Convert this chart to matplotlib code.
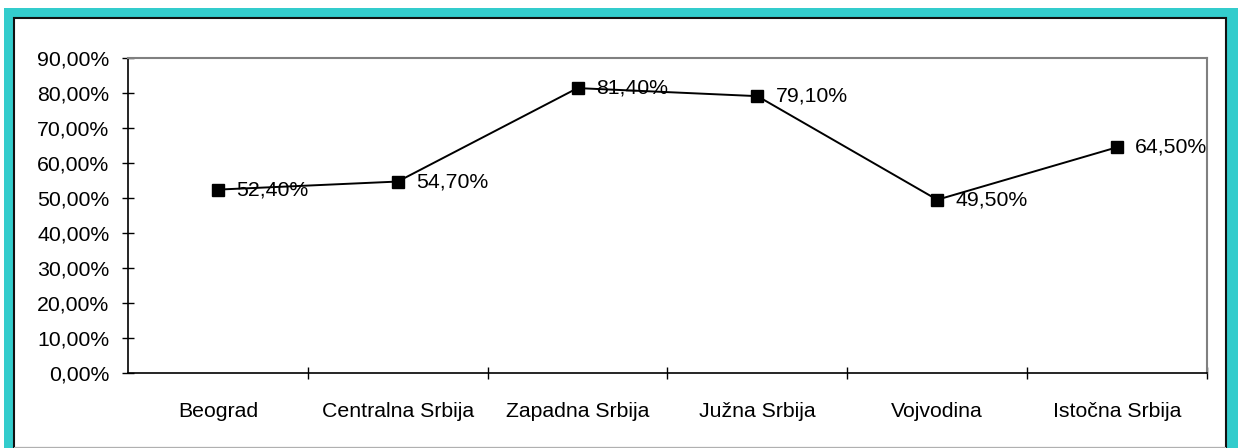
import matplotlib
matplotlib.use("Agg")
import matplotlib.pyplot as plt
from matplotlib.patches import Rectangle
from matplotlib.ticker import FuncFormatter

regions = ["Beograd", "Centralna Srbija", "Zapadna Srbija", "Južna Srbija", "Vojvodina", "Istočna Srbija"]
shares = [0.524, 0.547, 0.814, 0.791, 0.495, 0.645]
y_ticks = [0.0, 0.1, 0.2, 0.3, 0.4, 0.5, 0.6, 0.7, 0.8, 0.9]

W, H = 1238, 448
TEAL = "#33cccc"
FS = 15.3

plt.rcParams["font.family"] = ["Liberation Sans", "DejaVu Sans"]


def pct(value, _pos=None):
    return f"{value * 100:.2f}%".replace(".", ",")


fig = plt.figure(figsize=(W / 100, H / 100), dpi=100)
fig.patch.set_facecolor("white")

# teal frame and inner white panel (pixel coords, origin bottom-left)
fig.patches.append(Rectangle((4 / W, 0), (W - 4) / W, (H - 8) / H,
                             transform=fig.transFigure, facecolor=TEAL, edgecolor="none", zorder=0))
fig.patches.append(Rectangle((14 / W, 0), (1226 - 14) / W, (H - 18) / H,
                             transform=fig.transFigure, facecolor="white", edgecolor="#111111",
                             linewidth=1.5, zorder=1))
fig.patches.append(Rectangle((14 / W, 0), (1226 - 14) / W, 1.5 / H,
                             transform=fig.transFigure, facecolor="#b0b0b0", edgecolor="none", zorder=2))

left, right, top, bottom = 128, 1207, 58, 373
ax = fig.add_axes([left / W, (H - bottom) / H, (right - left) / W, (bottom - top) / H])
ax.set_zorder(3)
ax.set_facecolor("white")

x = list(range(len(regions)))
ax.plot(x, shares, color="black", linewidth=1.4, marker="s", markersize=8,
        markerfacecolor="black", markeredgecolor="black", zorder=3)

for xi, val in zip(x, shares):
    ax.annotate(pct(val), (xi, val), xytext=(13, 0), textcoords="offset points",
                ha="left", va="center", fontsize=FS, color="black", zorder=2)

ax.set_xlim(-0.5, len(regions) - 0.5)
ax.set_ylim(0, 0.9)
ax.set_yticks(y_ticks)
ax.yaxis.set_major_formatter(FuncFormatter(pct))

ax.set_xticks(x)
ax.set_xticklabels(regions)
ax.set_xticks([i + 0.5 for i in x], minor=True)
ax.tick_params(axis="x", which="major", length=0, pad=21, labelsize=FS)
ax.tick_params(axis="x", which="minor", direction="inout", length=9, width=1, color="black")
ax.tick_params(axis="y", direction="inout", length=9, width=1, pad=9, labelsize=FS)

for side in ("left", "bottom"):
    ax.spines[side].set_color("black")
    ax.spines[side].set_linewidth(1.2)
for side in ("top", "right"):
    ax.spines[side].set_color("#808080")
    ax.spines[side].set_linewidth(1.5)

fig.savefig("out.png", dpi=100, facecolor="white")
